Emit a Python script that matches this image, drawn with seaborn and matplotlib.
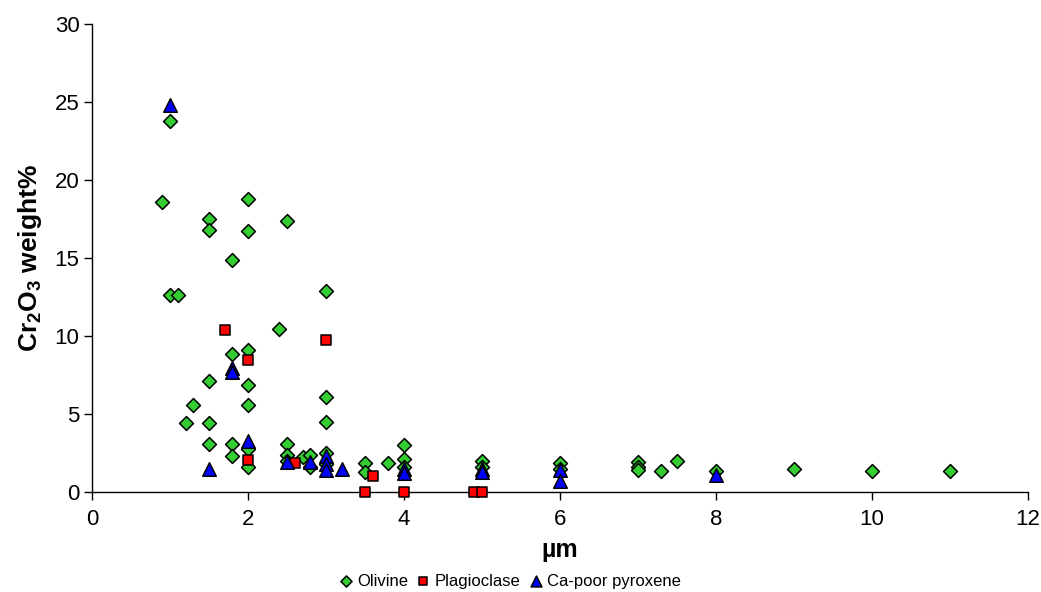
import pandas as pd
import matplotlib
matplotlib.use("Agg")
import matplotlib.pyplot as plt
import seaborn as sns

# data (size in um, Cr2O3 wt%)
olivine_x = [0.9, 1.0, 1.0, 1.1, 1.2, 1.3, 1.5, 1.5, 1.5, 1.5, 1.5, 1.8, 1.8, 1.8, 1.8,
             2.0, 2.0, 2.0, 2.0, 2.0, 2.0, 2.0, 2.4, 2.5, 2.5, 2.5, 2.5, 2.7, 2.8, 2.8,
             3.0, 3.0, 3.0, 3.0, 3.0, 3.5, 3.5, 3.8, 4.0, 4.0, 4.0, 5.0, 5.0, 6.0, 6.0,
             7.0, 7.0, 7.0, 7.3, 7.5, 8.0, 9.0, 10.0, 11.0]
olivine_y = [18.6, 23.8, 12.6, 12.6, 4.4, 5.6, 17.5, 16.8, 7.1, 4.4, 3.05, 14.9, 8.85, 3.1, 2.3,
             18.8, 16.7, 9.1, 6.85, 5.6, 2.75, 1.6, 10.45, 17.4, 3.1, 2.4, 2.0, 2.25, 2.4, 1.6,
             12.9, 6.1, 4.5, 2.5, 1.8, 1.85, 1.3, 1.85, 3.0, 2.1, 1.6, 2.0, 1.6, 1.85, 1.5,
             1.95, 1.6, 1.4, 1.35, 2.0, 1.35, 1.5, 1.35, 1.35]

plag_x = [1.7, 2.0, 2.0, 2.6, 3.0, 3.5, 3.6, 4.0, 4.9, 5.0]
plag_y = [10.4, 8.45, 2.05, 1.85, 9.75, 0.02, 1.0, 0.02, 0.02, 0.02]

pyx_x = [1.0, 1.5, 1.8, 1.8, 2.0, 2.5, 2.8, 3.0, 3.0, 3.0, 3.2, 4.0, 4.0, 5.0, 5.0, 6.0, 6.0, 8.0]
pyx_y = [24.8, 1.5, 7.95, 7.7, 3.25, 1.95, 1.9, 2.3, 1.8, 1.4, 1.5, 1.5, 1.2, 1.5, 1.25, 1.4, 0.7, 1.1]

sns.set_style("ticks")
plt.rcParams['font.family'] = ['Liberation Sans', 'DejaVu Sans']
plt.rcParams['mathtext.fontset'] = 'custom'
plt.rcParams['mathtext.rm'] = 'Liberation Sans'
plt.rcParams['mathtext.bf'] = 'Liberation Sans:bold'
plt.rcParams['text.color'] = 'black'
plt.rcParams['axes.labelcolor'] = 'black'
plt.rcParams['xtick.color'] = 'black'
plt.rcParams['ytick.color'] = 'black'

fig, ax = plt.subplots(figsize=(10.41, 5.92), dpi=100)
fig.subplots_adjust(left=0.0884, right=0.9875, bottom=0.169, top=0.9595)

series = [
    ("Olivine", olivine_x, olivine_y, "D", "#33cc33", 50),
    ("Plagioclase", plag_x, plag_y, "s", "#ff0000", 62),
    ("Ca-poor pyroxene", pyx_x, pyx_y, "^", "#0000ff", 95),
]
for name, xs, ys, mk, col, sz in series:
    df = pd.DataFrame({"x": xs, "y": ys})
    sns.scatterplot(data=df, x="x", y="y", ax=ax, marker=mk, color=col, s=sz,
                    edgecolor="black", linewidth=1.1, label=name, clip_on=False, zorder=3)

ax.set_xlim(0, 12)
ax.set_ylim(0, 30)
ax.set_xticks(range(0, 13, 2))
ax.set_yticks(range(0, 31, 5))
ax.tick_params(axis="both", labelsize=16, length=6, width=1, direction="out", pad=3)
ax.tick_params(axis="x", pad=6)
for side in ["left", "bottom"]:
    ax.spines[side].set_color("black")
    ax.spines[side].set_linewidth(1)
sns.despine(ax=ax)

ax.set_xlabel("µm", fontsize=18, fontweight="bold", labelpad=6)
ax.set_ylabel(r"$\mathbf{Cr_2O_3}$ weight%", fontsize=19, fontweight="bold", labelpad=8)

handles, labels = ax.get_legend_handles_labels()
ax.get_legend().remove()
fig.legend(handles, labels, loc="center", bbox_to_anchor=(0.49, 0.018), ncol=3, frameon=False,
           fontsize=12, markerscale=0.8, handlelength=0.8, handletextpad=0.3,
           columnspacing=0.5, borderaxespad=0)

fig.savefig("out.png", dpi=100)
